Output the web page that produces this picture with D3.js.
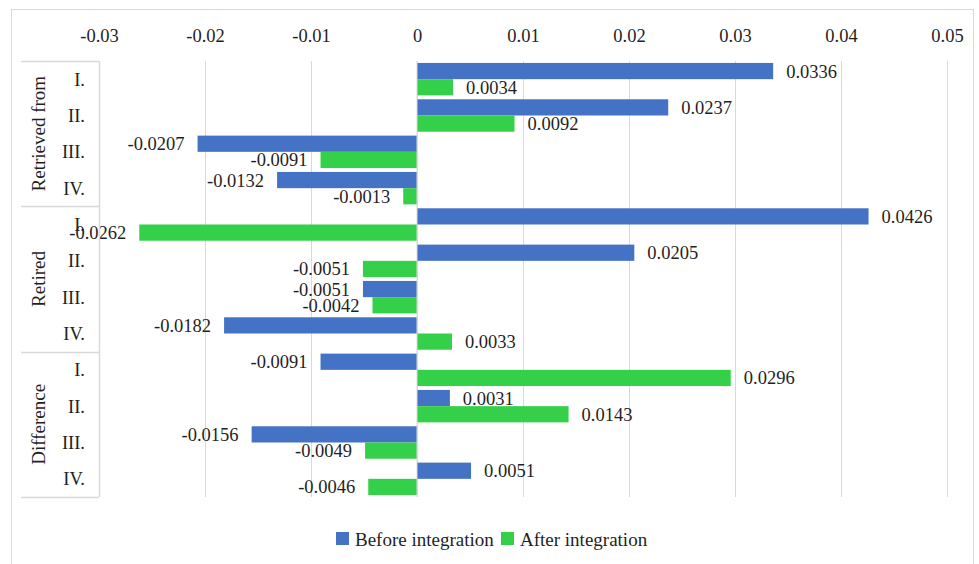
<!DOCTYPE html>
<html>
<head>
<meta charset="utf-8">
<script src="https://cdn.jsdelivr.net/npm/d3@7"></script>
<style>
  body { margin: 0; background: #fff; }
  text { font-family: 'Liberation Serif', 'Times New Roman', serif; }
</style>
</head>
<body>
<div id="svg-container"></div>
<script>
const groups = ['Retrieved from', 'Retired', 'Difference'];
const subCats = ['I.', 'II.', 'III.', 'IV.'];
const seriesNames = ['Before integration', 'After integration'];
const beforeValues = [0.0336, 0.0237, -0.0207, -0.0132, 0.0426, 0.0205, -0.0051, -0.0182, -0.0091, 0.0031, -0.0156, 0.0051];
const afterValues = [0.0034, 0.0092, -0.0091, -0.0013, -0.0262, -0.0051, -0.0042, 0.0033, 0.0296, 0.0143, -0.0049, -0.0046];
const xTicks = [-0.03, -0.02, -0.01, 0, 0.01, 0.02, 0.03, 0.04, 0.05];
const colors = ['#4472C4', '#35D04A'];

const w = 979;
const h = 564;
const plotLeft = 99, plotRight = 947, plotTop = 61, plotBottom = 497;
const textColor = '#1f1f1f';
const lineColor = '#d9d9d9';

const rows = [];
groups.forEach((g, gi) => {
  subCats.forEach((c, ci) => {
    const i = gi * subCats.length + ci;
    rows.push({ key: g + '|' + c, group: g, cat: c, values: [beforeValues[i], afterValues[i]] });
  });
});

const svg = d3.select('#svg-container')
  .append('svg')
  .attr('width', w)
  .attr('height', h);

svg.append('rect')
  .attr('x', 11.5)
  .attr('y', 9.5)
  .attr('width', 962)
  .attr('height', 570)
  .attr('fill', 'none')
  .attr('stroke', lineColor);

const xScale = d3.scaleLinear()
  .domain([-0.03, 0.05])
  .range([plotLeft, plotRight]);

const yScale = d3.scaleBand()
  .domain(rows.map(d => d.key))
  .range([plotTop, plotBottom]);

const yInner = d3.scaleBand()
  .domain([0, 1])
  .range([0, yScale.bandwidth()])
  .paddingOuter(0.12);

// grid
svg.append('g')
  .selectAll('line')
  .data(xTicks)
  .enter()
  .append('line')
  .attr('x1', d => Math.round(xScale(d)) + 0.5)
  .attr('x2', d => Math.round(xScale(d)) + 0.5)
  .attr('y1', plotTop)
  .attr('y2', plotBottom)
  .attr('stroke', lineColor);

// top axis labels
const xAxis = d3.axisTop(xScale)
  .tickValues(xTicks)
  .tickSize(0)
  .tickPadding(0)
  .tickFormat(d => d === 0 ? '0' : String(+d.toFixed(2)));

svg.append('g')
  .attr('transform', 'translate(0, 42)')
  .call(xAxis)
  .call(g => g.select('.domain').remove())
  .selectAll('text')
  .attr('font-size', 18.5)
  .attr('font-family', "'Liberation Serif', 'Times New Roman', serif")
  .attr('fill', textColor);

// bars
const rowG = svg.append('g')
  .selectAll('g')
  .data(rows)
  .enter()
  .append('g')
  .attr('transform', d => 'translate(0, ' + yScale(d.key) + ')');

rowG.selectAll('rect')
  .data(d => d.values)
  .enter()
  .append('rect')
  .attr('x', d => xScale(Math.min(0, d)))
  .attr('y', (d, i) => yInner(i))
  .attr('width', d => Math.abs(xScale(d) - xScale(0)))
  .attr('height', yInner.bandwidth())
  .attr('fill', (d, i) => colors[i]);

rowG.selectAll('text')
  .data(d => d.values)
  .enter()
  .append('text')
  .attr('x', d => d < 0 ? xScale(d) - 13 : xScale(d) + 13)
  .attr('y', (d, i) => yInner(i) + yInner.bandwidth() / 2)
  .attr('dy', '0.35em')
  .attr('text-anchor', d => d < 0 ? 'end' : 'start')
  .attr('font-size', 18.5)
  .attr('fill', textColor)
  .text(d => d.toFixed(4));

// zero line
svg.append('line')
  .attr('x1', xScale(0))
  .attr('x2', xScale(0))
  .attr('y1', plotTop)
  .attr('y2', plotBottom)
  .attr('stroke', lineColor);

// category axis box
const axisBox = svg.append('g');
axisBox.append('line')
  .attr('x1', plotLeft + 0.5)
  .attr('x2', plotLeft + 0.5)
  .attr('y1', plotTop)
  .attr('y2', plotBottom)
  .attr('stroke', lineColor)
  .attr('stroke-width', 1.5);

const groupEdges = groups.map((g, i) => yScale(g + '|' + subCats[0])).concat([plotBottom]);
axisBox.selectAll('.sep')
  .data(groupEdges)
  .enter()
  .append('line')
  .attr('class', 'sep')
  .attr('x1', 21)
  .attr('x2', plotLeft)
  .attr('y1', d => Math.round(d) + 0.5)
  .attr('y2', d => Math.round(d) + 0.5)
  .attr('stroke', lineColor)
  .attr('stroke-width', 1.5);

axisBox.selectAll('.cat')
  .data(rows)
  .enter()
  .append('text')
  .attr('class', 'cat')
  .attr('x', 85)
  .attr('y', d => yScale(d.key) + yScale.bandwidth() / 2)
  .attr('dy', '0.35em')
  .attr('text-anchor', 'end')
  .attr('font-size', 18.5)
  .attr('fill', textColor)
  .text(d => d.cat);

axisBox.selectAll('.grp')
  .data(groups)
  .enter()
  .append('text')
  .attr('class', 'grp')
  .attr('transform', (d, i) => 'translate(38, ' + (groupEdges[i] + groupEdges[i + 1]) / 2 + ') rotate(-90)')
  .attr('dy', '0.35em')
  .attr('text-anchor', 'middle')
  .attr('font-size', 19)
  .attr('fill', textColor)
  .text(d => d);

// legend
const legendX = [336, 501];
const legend = svg.append('g')
  .selectAll('g')
  .data(seriesNames)
  .enter()
  .append('g')
  .attr('transform', (d, i) => 'translate(' + legendX[i] + ', 532)');

legend.append('rect')
  .attr('width', 13)
  .attr('height', 13)
  .attr('fill', (d, i) => colors[i]);

legend.append('text')
  .attr('x', 19)
  .attr('y', 7)
  .attr('dy', '0.35em')
  .attr('font-size', 19)
  .attr('fill', textColor)
  .text(d => d);
</script>
</body>
</html>
